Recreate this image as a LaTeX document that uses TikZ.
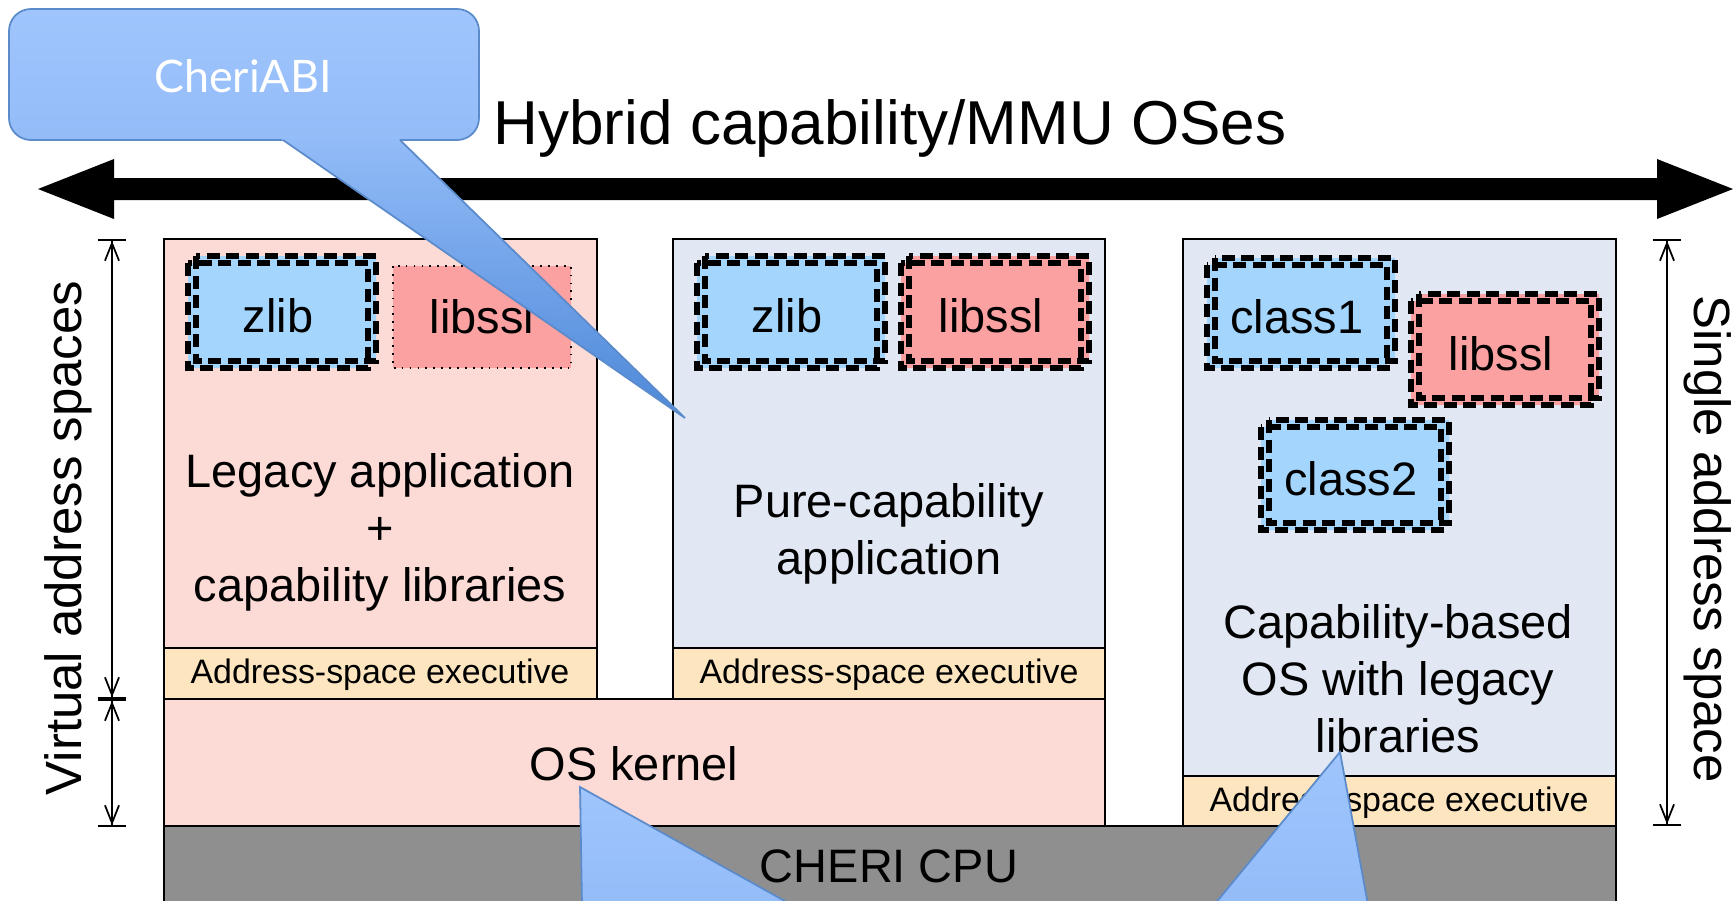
\documentclass[tikz,border=0pt]{standalone}
\usepackage{fontspec}
\setmainfont{Liberation Sans}
\newfontfamily\bubblefont{Lato}
\usetikzlibrary{arrows.meta}

\definecolor{apppink}{HTML}{FCDAD6}
\definecolor{appblue}{HTML}{E1E8F3}
\definecolor{execorange}{HTML}{FDE5BF}
\definecolor{libblue}{HTML}{A3D5FD}
\definecolor{libpink}{HTML}{FCA1A1}
\definecolor{cpugray}{HTML}{8F8F8F}
\definecolor{bubbletop}{HTML}{A0C5FD}
\definecolor{bubblemid}{HTML}{93BCF8}
\definecolor{bubbletip}{HTML}{4D88D8}
\definecolor{bubbleline}{HTML}{5B8BCB}

\tikzset{
  layer/.style={draw=black, line width=1.4pt},
  libdash/.style={draw=black, line width=3.1pt, dash pattern=on 7.5pt off 3.6pt},
  libdot/.style={draw=black, line width=1pt, dash pattern=on 1pt off 3.5pt},
  dimline/.style={line width=1pt, {Bar[width=16pt]Straight Barb[length=10pt,width=8pt]}-{Straight Barb[length=10pt,width=8pt]Bar[width=16pt]}},
  bigtext/.style={font=\fontsize{26.7pt}{32.5pt}\selectfont, align=center, inner sep=0pt},
  exectext/.style={font=\fontsize{19.3pt}{22pt}\selectfont, inner sep=0pt},
  sidetext/.style={font=\fontsize{29pt}{34pt}\selectfont, inner sep=0pt},
  bubble/.style={draw=bubbleline, line width=1pt},
}

\begin{document}
\begin{tikzpicture}[x=0.02cm,y=-0.02cm]
\useasboundingbox (0,0) rectangle (1733,900);

% the big double arrow and its title
\fill (38,189) -- (114,159) -- (114,178) -- (1657,178) -- (1657,159) -- (1733,189)
  -- (1657,219) -- (1657,200) -- (114,200) -- (114,219) -- cycle;
\node[font=\fontsize{35.3pt}{40pt}\selectfont, inner sep=0pt] (title) at (890,128) {Hybrid capability/MMU OSes};

% layers
\draw[layer, fill=apppink] (164,239) rectangle (597,648);
\draw[layer, fill=execorange] (164,648) rectangle (597,699);
\draw[layer, fill=appblue] (673,239) rectangle (1105,648);
\draw[layer, fill=execorange] (673,648) rectangle (1105,699);
\draw[layer, fill=apppink] (164,699) rectangle (1105,826);
\draw[layer, fill=appblue] (1183,239) rectangle (1616,776);
\draw[layer, fill=execorange] (1183,776) rectangle (1616,826);
\draw[layer, fill=cpugray] (164,826) rectangle (1616,910);

\node[bigtext] (legacy) at (380,532) {Legacy application\\+\\capability libraries};
\node[bigtext] (purecap) at (889,534) {Pure-capability\\application};
\node[bigtext] (capos) at (1398,679) {Capability-based\\OS with legacy\\libraries};
\node[bigtext] (kernel) at (634,764) {OS kernel};
\node[bigtext] (cpu) at (889,866) {CHERI CPU};
\node[exectext] (execA) at (380,675) {Address-space executive};
\node[exectext] (execB) at (889,675) {Address-space executive};
\node[exectext] (execC) at (1399,803) {Address-space executive};

% libraries in the legacy application
\fill[libblue] (188,263) rectangle (368,368) (196,256) rectangle (376,361);
\draw[libdash] (188,263) rectangle (368,368) (196,256) rectangle (376,361);
\node[bigtext] (zlibA) at (278,316) {zlib};
\fill[libpink] (393,266) rectangle (571,368);
\draw[libdot] (393,266) rectangle (571,368);
\node[bigtext] (libsslA) at (482,317) {libssl};

% libraries in the pure-capability application
\fill[libblue] (697,263) rectangle (877,368) (705,256) rectangle (885,361);
\draw[libdash] (697,263) rectangle (877,368) (705,256) rectangle (885,361);
\node[bigtext] (zlibB) at (787,316) {zlib};
\fill[libpink] (901,263) rectangle (1081,368) (909,256) rectangle (1089,361);
\draw[libdash] (901,263) rectangle (1081,368) (909,256) rectangle (1089,361);
\node[bigtext] (libsslB) at (991,316) {libssl};

% classes in the capability-based OS
\fill[libblue] (1207,265) rectangle (1387,368) (1215,258) rectangle (1395,361);
\draw[libdash] (1207,265) rectangle (1387,368) (1215,258) rectangle (1395,361);
\node[bigtext] (classA) at (1297,317) {class1};
\fill[libpink] (1411,301) rectangle (1591,405) (1419,294) rectangle (1599,398);
\draw[libdash] (1411,301) rectangle (1591,405) (1419,294) rectangle (1599,398);
\node[bigtext] (libsslC) at (1501,354) {libssl};
\fill[libblue] (1261,427) rectangle (1441,530) (1269,420) rectangle (1449,523);
\draw[libdash] (1261,427) rectangle (1441,530) (1269,420) rectangle (1449,523);
\node[bigtext] (classB) at (1351,479) {class2};

% address space extents
\coordinate (vtop) at (112,239);
\coordinate (vmid) at (112,699);
\coordinate (vbot) at (112,827);
\coordinate (stop) at (1667,239);
\coordinate (sbot) at (1667,826);
\draw[dimline] (vtop) -- (vmid);
\draw[dimline] (vmid) -- (vbot);
\draw[dimline] (stop) -- (sbot);
\node[sidetext, rotate=90] (virtual) at (68,538) {Virtual address spaces};
\node[sidetext, rotate=-90] (single) at (1708,539) {Single address space};

% callouts
\shade[top color=bubbletop, bottom color=bubblemid, rounded corners=12.5pt] (9,9) rectangle (479,140);
\draw[bubble, rounded corners=12.5pt] (9,9) rectangle (479,140);
\shade[top color=bubblemid, bottom color=bubbletip] (277,136) -- (685,418) -- (396,136) -- cycle;
\draw[bubble] (283,140) -- (685,418) -- (400,140);
\node[font=\bubblefont\fontsize{25.5pt}{30pt}\selectfont, text=white] (cheriabi) at (243,76) {CheriABI};

\shade[top color=bubbletop, bottom color=bubblemid] (580,787) -- (792,905) -- (582,905) -- cycle;
\draw[bubble] (582,905) -- (580,787) -- (792,905);
\shade[top color=bubbletop, bottom color=bubblemid] (1340,752) -- (1368,905) -- (1214,905) -- cycle;
\draw[bubble] (1214,905) -- (1340,752) -- (1368,905);
\end{tikzpicture}
\end{document}
